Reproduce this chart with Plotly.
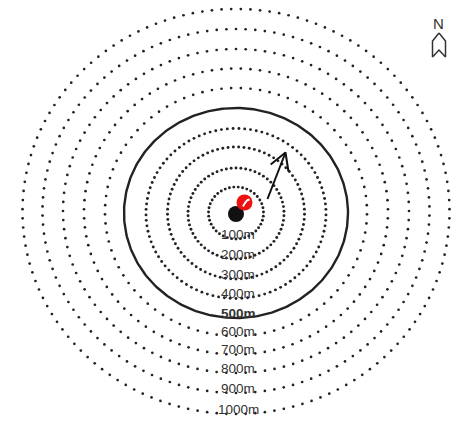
import numpy as np
import plotly.graph_objects as go

# ---- data (pixel units of the drawing) ----
distances = [100, 200, 300, 400, 500, 600, 700, 800, 900, 1000]
labels = ["100m", "200m", "300m", "400m", "500m", "600m", "700m", "800m", "900m", "1000m"]
ring_rx = [27.5, 48, 68.5, 90, 112, 131, 152, 173, 193.5, 213.5]
ring_ry = [26, 45.5, 66, 85, 105, 124, 143, 162, 182, 202.5]
ring_cy = [213, 213.5, 213, 213.5, 213, 212, 211.5, 211, 211, 211.5]
solid_distance = 500
center_x = 236
site_black = (236, 214)
site_red = (244.5, 202.5)
arrow_tail = (267.5, 199)
arrow_tip = (285.5, 152.5)
north_pos = (439, 33)

W, H = 459, 421
ink = "#222222"

fig = go.Figure()

for d, lab, rx, ry, cy in zip(distances, labels, ring_rx, ring_ry, ring_cy):
    if d == solid_distance:
        t = np.linspace(0, 2 * np.pi, 361)
        fig.add_trace(go.Scatter(x=center_x + rx * np.cos(t), y=cy + ry * np.sin(t),
                                 mode="lines", line=dict(color=ink, width=2.4),
                                 hoverinfo="skip", showlegend=False))
    else:
        spacing = 4.3 + 0.45 * (d // 100 - 1) if d < solid_distance else 9.4
        circ = np.pi * (3 * (rx + ry) - np.sqrt((3 * rx + ry) * (rx + 3 * ry)))
        n = int(round(circ / spacing))
        t = np.linspace(0, 2 * np.pi, n, endpoint=False) + np.pi / 2
        fig.add_trace(go.Scatter(x=center_x + rx * np.cos(t), y=cy + ry * np.sin(t),
                                 mode="markers",
                                 marker=dict(color=ink, size=2.9 if d < solid_distance else 2.7),
                                 hoverinfo="skip", showlegend=False))
    fig.add_annotation(x=center_x + 2, y=cy + ry, text=lab, showarrow=False,
                       yshift=5, xanchor="center", yanchor="middle",
                       font=dict(family="Liberation Sans", size=13.5, color="#333333",
                                 weight="bold" if d == solid_distance else "normal"))

# site markers
fig.add_trace(go.Scatter(x=[site_black[0]], y=[site_black[1]], mode="markers",
                         marker=dict(color="#111111", size=16), hoverinfo="skip", showlegend=False))
fig.add_trace(go.Scatter(x=[site_red[0]], y=[site_red[1]], mode="markers",
                         marker=dict(color="#ee1111", size=16), hoverinfo="skip", showlegend=False))
rx0, ry0 = site_red
fig.add_trace(go.Scatter(x=[rx0 - 1.5, rx0 + 0.5, rx0 + 2.5, rx0 + 5],
                         y=[ry0 + 4, ry0 + 0.5, ry0 - 2, ry0 - 3],
                         mode="lines", line=dict(color="white", width=2, shape="spline"),
                         hoverinfo="skip", showlegend=False))

# arrow
dx, dy = arrow_tip[0] - arrow_tail[0], arrow_tip[1] - arrow_tail[1]
L = np.hypot(dx, dy)
ux, uy = -dx / L, -dy / L
head = 19
wings = []
for a in (np.radians(30), np.radians(-30)):
    wx = ux * np.cos(a) - uy * np.sin(a)
    wy = ux * np.sin(a) + uy * np.cos(a)
    wings.append((arrow_tip[0] + head * wx, arrow_tip[1] + head * wy))
fig.add_trace(go.Scatter(
    x=[arrow_tail[0], arrow_tip[0], None, wings[0][0], arrow_tip[0], wings[1][0]],
    y=[arrow_tail[1], arrow_tip[1], None, wings[0][1], arrow_tip[1], wings[1][1]],
    mode="lines", line=dict(color="#111111", width=2), hoverinfo="skip", showlegend=False))

# north symbol
nx, ny = north_pos
shape_x = [0, 6.5, 6.5, 0, -6.5, -6.5, 0]
shape_y = [0, 8, 24, 17, 24, 8, 0]
fig.add_trace(go.Scatter(x=[nx + v for v in shape_x], y=[ny + v for v in shape_y],
                         mode="lines", line=dict(color="#333333", width=1.5),
                         hoverinfo="skip", showlegend=False))
fig.add_annotation(x=nx - 1, y=ny - 10, text="N", showarrow=False,
                   font=dict(family="Liberation Sans", size=15, color="#333333"))

fig.update_xaxes(range=[0, W], visible=False, fixedrange=True)
fig.update_yaxes(range=[H, 0], visible=False, fixedrange=True)
fig.update_layout(width=W, height=H, margin=dict(l=0, r=0, t=0, b=0),
                  paper_bgcolor="white", plot_bgcolor="white")

fig.write_html("out.html", config={"displayModeBar": False},
               post_script="document.body.style.margin='0';document.body.style.overflow='hidden';")
